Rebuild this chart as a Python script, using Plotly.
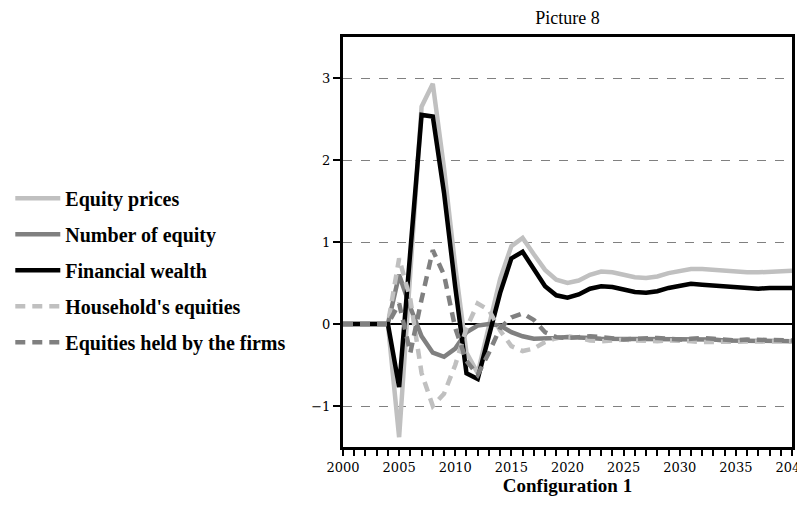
import plotly.graph_objects as go

years = list(range(2000, 2041))

equity_prices = [0, 0, 0, 0, 0, -1.38, 0.65, 2.65, 2.93, 1.9, 0.7, -0.35, -0.6, -0.05, 0.55,
                 0.95, 1.05, 0.85, 0.66, 0.54, 0.50, 0.53, 0.60, 0.64, 0.63, 0.60, 0.57, 0.56,
                 0.58, 0.62, 0.65, 0.67, 0.67, 0.66, 0.64, 0.63, 0.63, 0.63, 0.64, 0.65, 0.65]

number_of_equity = [0, 0, 0, 0, 0, 0.6, 0.2, -0.15, -0.35, -0.4, -0.3, -0.1, -0.02, 0.0, -0.02,
                    -0.1, -0.15, -0.18, -0.18, -0.17, -0.16, -0.16, -0.17, -0.18, -0.18, -0.18,
                    -0.18, -0.18, -0.18, -0.18, -0.19, -0.19, -0.19, -0.19, -0.2, -0.2, -0.2,
                    -0.2, -0.21, -0.21, -0.21]

financial_wealth = [0, 0, 0, 0, 0, -0.77, 0.88, 2.55, 2.53, 1.6, 0.45, -0.6, -0.67, -0.15, 0.38,
                    0.8, 0.88, 0.67, 0.46, 0.35, 0.32, 0.36, 0.43, 0.46, 0.45, 0.42, 0.39, 0.38,
                    0.40, 0.44, 0.47, 0.49, 0.48, 0.47, 0.45, 0.44, 0.43, 0.43, 0.44, 0.44, 0.44]

household_equities = [0, 0, 0, 0, 0, 0.8, 0.3, -0.6, -1.0, -0.85, -0.5, -0.05, 0.25, 0.17, -0.08,
                      -0.27, -0.33, -0.3, -0.22, -0.17, -0.15, -0.17, -0.2, -0.21, -0.2, -0.19,
                      -0.2, -0.21, -0.21, -0.2, -0.2, -0.21, -0.22, -0.22, -0.21, -0.21, -0.21,
                      -0.22, -0.22, -0.22, -0.21]

firms_equities = [0, 0, 0, 0, 0, 0.25, -0.35, 0.3, 0.9, 0.6, -0.05, -0.45, -0.62, -0.35, -0.05,
                  0.08, 0.13, 0.05, -0.1, -0.16, -0.17, -0.16, -0.15, -0.16, -0.18, -0.19, -0.18,
                  -0.17, -0.17, -0.18, -0.19, -0.18, -0.17, -0.18, -0.19, -0.2, -0.19, -0.19,
                  -0.2, -0.2, -0.2]

series = [
    ("Equity prices", equity_prices, "#c0c0c0", "solid"),
    ("Number of equity", number_of_equity, "#808080", "solid"),
    ("Financial wealth", financial_wealth, "#000000", "solid"),
    ("Household's equities", household_equities, "#c0c0c0", "10px,7px"),
    ("Equities held by the firms", firms_equities, "#808080", "10px,7px"),
]

fig = go.Figure()
for i, (name, vals, color, dash) in enumerate(series):
    fig.add_trace(go.Scatter(
        x=years, y=vals, mode="lines", name=name, legendgroup=str(i),
        line=dict(color=color, width=4.5, dash=dash),
    ))

serif = "Liberation Serif"
numfont = "DejaVu Serif"
W, H = 797, 504
L, T, PW, PH = 335, 29, 449, 410
fig.update_layout(
    width=W, height=H,
    margin=dict(l=L, r=W - L - PW, t=T, b=H - T - PH, autoexpand=False),
    plot_bgcolor="white", paper_bgcolor="white",
    title=dict(text="Picture 8", x=(L + PW / 2) / W, xanchor="center",
               y=1 - 3 / H, yanchor="top", pad=dict(t=0, b=0),
               font=dict(family=serif, size=18, color="black")),
    showlegend=True,
    legend=dict(x=-0.741, xanchor="left", y=0.654, yanchor="top",
                font=dict(family=serif, size=20, color="black", weight="bold"),
                tracegroupgap=7, itemwidth=45, bgcolor="rgba(0,0,0,0)"),
    font=dict(family=serif, color="black"),
)
fig.update_xaxes(
    range=[2000, 2040], dtick=5, tick0=2000,
    showline=True, linecolor="black", linewidth=3, mirror=True,
    ticks="outside", ticklen=6, tickwidth=2, tickcolor="black",
    minor=dict(dtick=1, ticks="outside", ticklen=6, tickwidth=2, tickcolor="black"),
    showgrid=False, zeroline=False, ticklabeloverflow="allow",
    tickfont=dict(family=numfont, size=13, color="black"),
    title=dict(text="<b>Configuration 1</b>", font=dict(family=serif, size=19, color="black"),
               standoff=5),
)
fig.update_yaxes(
    range=[-1.5, 3.5], tickvals=[-1, 0, 1, 2, 3],
    showline=True, linecolor="black", linewidth=3, mirror=True,
    ticks="outside", ticklen=7, tickwidth=2, tickcolor="black",
    showgrid=True, gridcolor="#808080", gridwidth=1, griddash="dash",
    zeroline=True, zerolinecolor="black", zerolinewidth=2,
    tickfont=dict(family=numfont, size=13, color="black"),
)

fig.write_html("out.html")
